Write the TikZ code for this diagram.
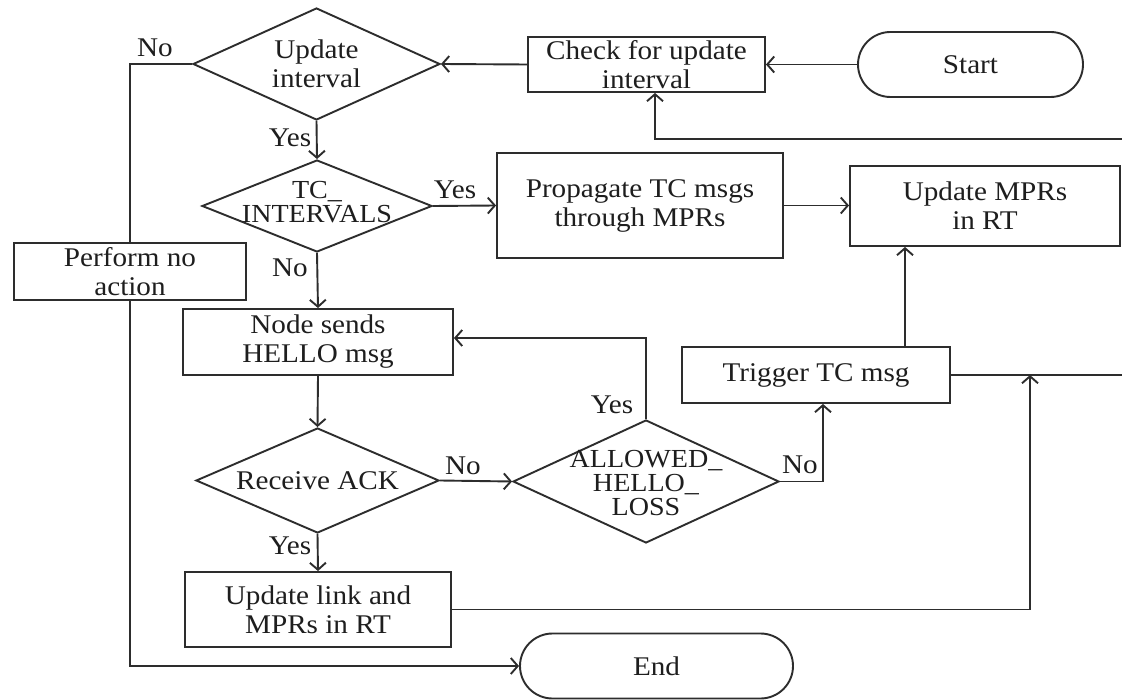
\documentclass[tikz,border=0pt]{standalone}
\usepackage{fontspec}
\setmainfont{Liberation Serif}[FakeStretch=1.08]
\usetikzlibrary{shapes.geometric,shapes.misc,arrows.meta,calc}
\definecolor{ln}{RGB}{45,45,45}
\definecolor{tx}{RGB}{30,30,30}
\begin{document}
\begin{tikzpicture}[x=1pt,y=-1pt,
 every node/.style={font=\fontsize{27}{29}\selectfont, text=tx},
 base/.style={draw=ln, line width=1.9pt, inner sep=0pt, align=center},
 box/.style={base, rectangle},
 dia/.style={base, diamond},
 term/.style={base, rounded rectangle},
 conn/.style={draw=ln, line width=1.9pt},
 arr/.style={conn, -{Straight Barb[length=7pt,width=16pt,line width=1.9pt]}},
 lbl/.style={inner sep=0pt, align=center},
 caps/.style={lbl, font=\fontsize{26}{24}\selectfont}]
\useasboundingbox (0,0) rectangle (1122,700);
\fill[white] (0,0) rectangle (1122,700);

% terminals
\node[term, minimum width=225pt, minimum height=65pt] (start) at (970.5,64.5) {Start};
\node[term, minimum width=273pt, minimum height=65pt] (end) at (656.5,666) {End};

% boxes
\node[box, minimum width=237pt, minimum height=55pt] (check) at (646.5,64.5) {Check for update\\interval};
\node[box, minimum width=286pt, minimum height=105pt] (prop) at (640,205.5) {Propagate TC msgs\\through MPRs};
\node[box, minimum width=270pt, minimum height=80pt] (mprs) at (985,206) {Update MPRs\\in RT};
\node[box, minimum width=232pt, minimum height=57pt] (pna) at (130,271.5) {Perform no\\action};
\node[box, minimum width=270pt, minimum height=66pt] (nodes) at (318,342) {Node sends\\HELLO msg};
\node[box, minimum width=268pt, minimum height=56pt] (trig) at (816,375) {Trigger TC msg};
\node[box, minimum width=266pt, minimum height=75pt] (upd) at (318,609.5) {Update link and\\MPRs in RT};

% decisions
\node[dia, minimum width=247pt, minimum height=112pt] (ui) at (316.5,64) {};
\node[lbl] (uit) at (ui) {Update\\interval};
\node[dia, minimum width=230pt, minimum height=92pt] (tc) at (317,206) {};
\node[caps] (tct) at (317,202) {TC\_\\INTERVALS};
\node[dia, minimum width=243pt, minimum height=105pt] (ra) at (317.5,480.5) {};
\node[lbl] (rat) at (ra) {Receive ACK};
\node[dia, minimum width=266pt, minimum height=123pt] (al) at (646,481.5) {};
\node[caps] (alt) at (646,483) {ALLOWED\_\\HELLO\_\\LOSS};

% helper coordinates
\coordinate (re1) at (1122,375);
\coordinate (re2) at (1122,139);
\coordinate (ck) at ($(check.south)+(8.5,0)$);
\coordinate (tb) at ($(trig.south)+(7,0)$);
\coordinate (tm) at (905,0);
\coordinate (j) at (1030,375);

% connectors
\draw[arr] (start.west) -- (check.east);
\draw[arr] (check.west) -- (ui.east);
\draw[arr] (ui.south) -- (tc.north);
\draw[arr] (tc.east) -- (prop.west);
\draw[arr] (prop.east) -- (prop.east -| mprs.west);
\draw[arr] (tc.south) -- (nodes.north);
\draw[arr] (nodes.south) -- (ra.north);
\draw[arr] (ra.east) -- (al.west);
\draw[arr] (al.north) |- ($(nodes.east)+(0,-4)$);
\draw[arr] (al.east) -| (tb);
\draw[arr] (trig.north -| tm) -- (mprs.south -| tm);
\draw[arr] (ra.south) -- (upd.north);
\draw[arr] (upd.east) -| (j);
\draw[conn] (trig.east) -- (re1);
\draw[arr] (re2) -| (ck);
\draw[conn] (ui.west) -| (pna.north);
\draw[arr] (pna.south) |- (end.west);

% labels
\node[lbl] (l1) at (155,48) {No};
\node[lbl] (l2) at (290,138) {Yes};
\node[lbl] (l3) at (455,190) {Yes};
\node[lbl] (l4) at (290,268) {No};
\node[lbl] (l5) at (463,466) {No};
\node[lbl] (l6) at (612,405) {Yes};
\node[lbl] (l7) at (800,465) {No};
\node[lbl] (l8) at (290,546) {Yes};
\end{tikzpicture}
\end{document}
